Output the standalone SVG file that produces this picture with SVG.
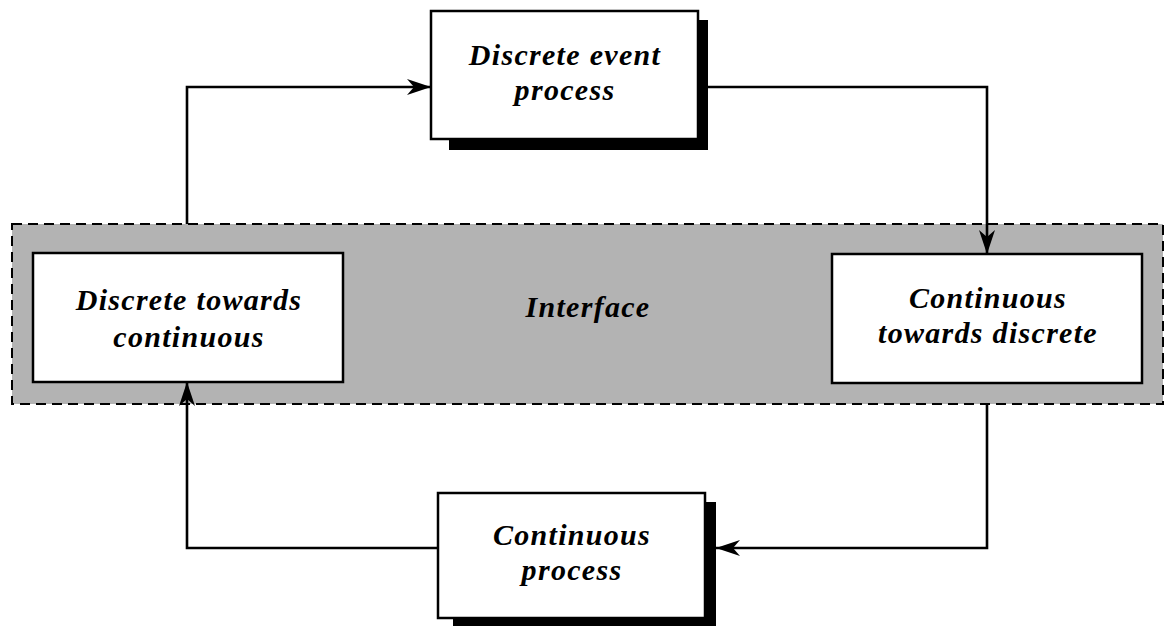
<svg xmlns="http://www.w3.org/2000/svg" width="1166" height="626" viewBox="0 0 1166 626">
  <style>
    .box { fill: #ffffff; stroke: #000000; stroke-width: 2.5; }
    .shadow { fill: #000000; stroke: none; }
    .lbl { font-family: "Liberation Serif", "DejaVu Serif", serif; font-style: italic; font-weight: bold; font-size: 30px; letter-spacing: 1.3px; fill: #000000; text-anchor: middle; }
    .conn { fill: none; stroke: #000000; stroke-width: 2.6; stroke-linejoin: miter; }
    .band { fill: #b3b3b3; stroke: #000000; stroke-width: 2; stroke-dasharray: 10 6; }
  </style>
  <defs>
    <marker id="arrow" markerUnits="userSpaceOnUse" markerWidth="26" markerHeight="16" refX="24" refY="8" orient="auto">
      <path d="M0,0 L24,8 L0,16 L7,8 Z" fill="#000000"/>
    </marker>
  </defs>
  <rect width="1166" height="626" fill="#ffffff"/>

  <g id="interface">
    <rect class="band" x="12" y="224" width="1151" height="180"/>
    <text class="lbl" x="588" y="317">Interface</text>
  </g>

  <g id="discrete-event-process">
    <rect class="shadow" x="449" y="20" width="259" height="130"/>
    <rect class="box" x="431" y="11" width="267" height="128"/>
    <text class="lbl" x="565" y="65">Discrete event</text>
    <text class="lbl" x="565" y="100">process</text>
  </g>

  <g id="discrete-towards-continuous">
    <rect class="box" x="33" y="253" width="310" height="129"/>
    <text class="lbl" x="189" y="310">Discrete towards</text>
    <text class="lbl" x="189" y="347">continuous</text>
  </g>

  <g id="continuous-towards-discrete">
    <rect class="box" x="832" y="254" width="310" height="129"/>
    <text class="lbl" x="988" y="308">Continuous</text>
    <text class="lbl" x="988" y="343">towards discrete</text>
  </g>

  <g id="continuous-process">
    <rect class="shadow" x="453" y="502" width="263" height="126"/>
    <rect class="box" x="438" y="493" width="267" height="125"/>
    <text class="lbl" x="572" y="545">Continuous</text>
    <text class="lbl" x="572" y="580">process</text>
  </g>

  <g id="connectors">
    <path class="conn" d="M187,224 L187,87 L431,87" marker-end="url(#arrow)"/>
    <path class="conn" d="M698,87 L987,87 L987,254" marker-end="url(#arrow)"/>
    <path class="conn" d="M987,404 L987,548 L716,548" marker-end="url(#arrow)"/>
    <path class="conn" d="M438,548 L187,548 L187,382" marker-end="url(#arrow)"/>
  </g>
</svg>
